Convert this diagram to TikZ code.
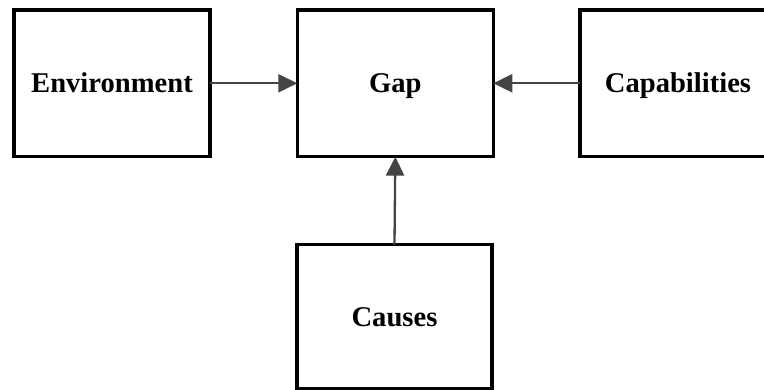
\documentclass[tikz,border=0pt]{standalone}
\usepackage{fontspec}
\setmainfont{Liberation Serif}
\usetikzlibrary{arrows.meta}
\definecolor{linkgray}{HTML}{444444}
\tikzset{
  block/.style={draw=black, line width=3.2pt, rectangle, minimum width=196pt,
    minimum height=146.7pt, inner sep=0pt, outer sep=0pt,
    font=\fontsize{28.6}{34}\selectfont\bfseries, text height=18.8pt, text depth=0pt},
  link/.style={draw=linkgray, line width=2.3pt,
    -{Triangle[length=19pt, width=18pt]}, color=linkgray}
}
\begin{document}
\begin{tikzpicture}[x=1pt, y=-1pt]
  \useasboundingbox (0,0) rectangle (764,390);
  \clip (0,0) rectangle (764,390);
  \fill[white] (0,0) rectangle (764,390);

  \node[block] (env) at (112,83.3) {Environment};
  \node[block] (gap) at (395.3,83.3) {Gap};
  \node[block] (cap) at (678,83.3) {Capabilities};
  \node[block, minimum width=195pt, minimum height=144pt] (cau) at (394.5,316.7) {Causes};

  \draw[link] (env.east) -- (gap.west);
  \draw[link] (cap.west) -- (gap.east);
  \draw[link] (cau.north) -- (gap.south);
\end{tikzpicture}
\end{document}
